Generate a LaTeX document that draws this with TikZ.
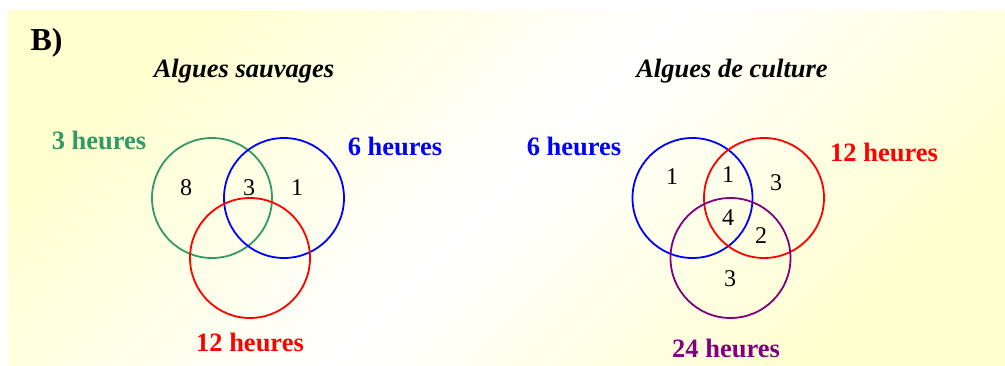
\documentclass[tikz,border=0pt]{standalone}
\usepackage{fontspec}
\setmainfont{Liberation Serif}
\usepackage{xcolor}
\usepackage{tikz}

\definecolor{vertset}{RGB}{51,153,102}
\definecolor{pourpre}{RGB}{128,0,128}
\definecolor{fond}{RGB}{255,255,208}

\begin{document}
\begin{tikzpicture}[
    x=1pt,y=-1pt,
    ens/.style={draw=#1,line width=1.8pt,circle,minimum size=120pt,inner sep=0pt},
    lbl/.style={font=\fontsize{26.5}{30}\selectfont\bfseries,text=#1,anchor=base},
    titre/.style={font=\fontsize{26.5}{30}\selectfont\bfseries\itshape,anchor=base},
    nb/.style={font=\fontsize{24}{28}\selectfont,anchor=base}
  ]
  \useasboundingbox (0,0) rectangle (1005,365);
  \shade[top color=fond,bottom color=fond,middle color=white,shading angle=45]
        (8,10) rectangle (1005,365);

  \node[font=\fontsize{32}{36}\selectfont\bfseries,anchor=base west] (lettre) at (27,50) {B)};

  % algues sauvages
  \node[titre] (tsauv) at (244,77) {Algues sauvages};
  \node[ens=vertset] (s3) at (212,198) {};
  \node[ens=blue] (s6) at (284,198) {};
  \node[ens=red] (s12) at (250,258) {};
  \node[lbl=vertset] (ls3) at (99,149) {3 heures};
  \node[lbl=blue] (ls6) at (395,155) {6 heures};
  \node[lbl=red] (ls12) at (250,351) {12 heures};
  \node[nb] (n1) at (186,195) {8};
  \node[nb] (n2) at (249,195) {3};
  \node[nb] (n3) at (297,195) {1};

  % algues de culture
  \node[titre] (tcult) at (732,77) {Algues de culture};
  \node[ens=blue] (c6) at (692.5,198) {};
  \node[ens=red] (c12) at (764,198) {};
  \node[ens=pourpre] (c24) at (730.5,258) {};
  \node[lbl=blue] (lc6) at (574,155) {6 heures};
  \node[lbl=red] (lc12) at (884,161) {12 heures};
  \node[lbl=pourpre] (lc24) at (726,357) {24 heures};
  \node[nb] (m1) at (672,184) {1};
  \node[nb] (m2) at (728,182) {1};
  \node[nb] (m3) at (776,190) {3};
  \node[nb] (m4) at (728,225) {4};
  \node[nb] (m5) at (761,243) {2};
  \node[nb] (m6) at (730,286) {3};
\end{tikzpicture}
\end{document}
